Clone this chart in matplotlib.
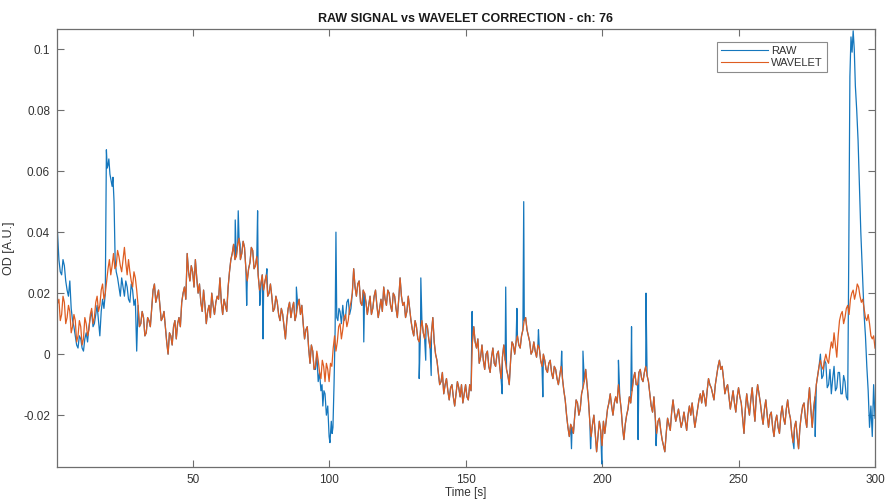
import numpy as np
import matplotlib
matplotlib.use("Agg")
import matplotlib.pyplot as plt

# ---------------- data ----------------
# WAVELET-corrected signal, whole seconds (t = 0.3, 1 .. 300)
wave_time = [0.3] + list(range(1, 301))
wavelet = [0.016,
    0.018, 0.013, 0.017, 0.012, 0.014, 0.009, 0.011, 0.006, 0.009, 0.005,
    0.010, 0.008, 0.015, 0.012, 0.019, 0.016, 0.023, 0.020, 0.028, 0.026,
    0.033, 0.029, 0.032, 0.027, 0.035, 0.026, 0.027, 0.022, 0.025, 0.016,
    0.010, 0.012, 0.007, 0.011, 0.015, 0.023, 0.019, 0.016, 0.012, 0.009,
    0.000, 0.006, 0.009, 0.005, 0.012, 0.017, 0.022, 0.033, 0.024, 0.027,
    0.031, 0.020, 0.017, 0.021, 0.010, 0.016, 0.020, 0.013, 0.019, 0.025,
    0.013, 0.016, 0.022, 0.031, 0.036, 0.032, 0.038, 0.033, 0.035, 0.024,
    0.030, 0.034, 0.029, 0.026, 0.023, 0.021, 0.026, 0.020, 0.019, 0.015,
    0.017, 0.011, 0.013, 0.005, 0.015, 0.012, 0.017, 0.013, 0.018, 0.016,
    0.005, 0.009, -0.003, 0.001, -0.004, -0.002, -0.008, -0.004, -0.003, -0.009,
    -0.004, 0.006, 0.004, 0.010, 0.008, 0.013, 0.011, 0.017, 0.028, 0.019,
    0.024, 0.016, 0.020, 0.013, 0.019, 0.015, 0.021, 0.012, 0.018, 0.022,
    0.016, 0.020, 0.014, 0.019, 0.012, 0.025, 0.016, 0.012, 0.019, 0.011,
    0.006, 0.009, 0.004, 0.011, 0.005, 0.009, 0.002, 0.012, 0.000, -0.006,
    -0.009, -0.013, -0.008, -0.015, -0.010, -0.017, -0.009, -0.014, -0.016, -0.010,
    -0.015, -0.012, 0.009, 0.002, -0.003, 0.003, -0.005, 0.001, -0.006, 0.002,
    -0.004, 0.001, -0.008, 0.003, -0.005, -0.010, 0.004, 0.000, 0.006, 0.002,
    0.008, 0.012, 0.006, 0.000, 0.004, -0.001, 0.002, -0.004, -0.002, -0.006,
    -0.002, -0.008, -0.005, -0.010, -0.004, -0.012, -0.020, -0.027, -0.024, -0.020,
    -0.016, -0.018, -0.011, -0.005, -0.015, -0.027, -0.020, -0.032, -0.022, -0.030,
    -0.026, -0.018, -0.013, -0.020, -0.014, -0.010, -0.018, -0.028, -0.020, -0.014,
    -0.012, -0.006, -0.010, -0.005, -0.009, -0.004, -0.009, -0.017, -0.014, -0.026,
    -0.021, -0.028, -0.032, -0.021, -0.025, -0.015, -0.022, -0.018, -0.024, -0.019,
    -0.025, -0.017, -0.016, -0.024, -0.018, -0.013, -0.012, -0.017, -0.008, -0.011,
    -0.015, -0.007, -0.002, -0.004, -0.013, -0.010, -0.018, -0.012, -0.019, -0.011,
    -0.016, -0.026, -0.013, -0.020, -0.011, -0.022, -0.010, -0.016, -0.023, -0.015,
    -0.024, -0.019, -0.027, -0.020, -0.026, -0.017, -0.023, -0.015, -0.021, -0.029,
    -0.022, -0.031, -0.020, -0.016, -0.024, -0.011, -0.024, -0.014, -0.007, -0.002,
    -0.005, 0.000, -0.003, 0.004, 0.007, -0.001, 0.011, 0.014, 0.012, 0.016,
    0.018, 0.021, 0.020, 0.022, 0.017, 0.015, 0.011, 0.010, 0.005, 0.002,
]

# WAVELET-corrected signal, half seconds (t = 1.5 .. 299.5)
wave_half_time = list(np.arange(1.5, 300.0, 1.0))
wavelet_half = [
    0.011, 0.019, 0.010, 0.016, 0.007, 0.013, 0.004, 0.011, 0.003, 0.012,
    0.006, 0.013, 0.010, 0.017, 0.014, 0.021, 0.018, 0.024, 0.031, 0.029,
    0.028, 0.034, 0.029, 0.031, 0.030, 0.031, 0.024, 0.027, 0.021, 0.009,
    0.014, 0.006, 0.012, 0.009, 0.021, 0.017, 0.021, 0.011, 0.014, 0.004,
    0.007, 0.003, 0.011, 0.010, 0.009, 0.020, 0.018, 0.027, 0.029, 0.022,
    0.025, 0.023, 0.014, 0.016, 0.014, 0.012, 0.016, 0.017, 0.018, 0.017,
    0.018, 0.014, 0.027, 0.033, 0.031, 0.036, 0.031, 0.037, 0.028, 0.028,
    0.035, 0.028, 0.032, 0.021, 0.026, 0.024, 0.019, 0.023, 0.014, 0.019,
    0.013, 0.015, 0.009, 0.011, 0.017, 0.015, 0.011, 0.016, 0.013, 0.010,
    0.008, 0.002, 0.003, -0.005, 0.001, -0.006, -0.002, -0.009, -0.005, -0.003,
    0.002, 0.001, 0.009, 0.005, 0.012, 0.009, 0.015, 0.020, 0.022, 0.023,
    0.017, 0.021, 0.017, 0.016, 0.013, 0.019, 0.016, 0.015, 0.014, 0.018,
    0.021, 0.016, 0.020, 0.015, 0.018, 0.019, 0.017, 0.014, 0.015, 0.008,
    0.011, 0.005, 0.008, 0.007, 0.010, 0.005, 0.007, 0.004, -0.002, -0.010,
    -0.006, -0.010, -0.012, -0.011, -0.014, -0.013, -0.011, -0.010, -0.013, -0.014,
    -0.010, 0.004, 0.004, 0.005, -0.001, -0.002, 0.000, -0.004, -0.001, -0.003,
    0.000, -0.004, -0.001, -0.002, -0.007, -0.002, 0.003, 0.004, 0.003, 0.006,
    0.011, 0.008, 0.004, 0.001, 0.001, 0.003, -0.002, 0.000, -0.005, -0.003,
    -0.006, -0.004, -0.008, -0.007, -0.008, -0.015, -0.024, -0.023, -0.026, -0.015,
    -0.020, -0.013, -0.009, -0.010, -0.022, -0.023, -0.026, -0.027, -0.025, -0.022,
    -0.022, -0.016, -0.017, -0.016, -0.016, -0.014, -0.024, -0.023, -0.018, -0.016,
    -0.008, -0.010, -0.006, -0.008, -0.006, -0.007, -0.013, -0.019, -0.021, -0.022,
    -0.025, -0.030, -0.026, -0.023, -0.019, -0.019, -0.020, -0.021, -0.022, -0.022,
    -0.020, -0.020, -0.020, -0.021, -0.015, -0.016, -0.014, -0.012, -0.010, -0.013,
    -0.010, -0.004, -0.005, -0.008, -0.011, -0.014, -0.015, -0.016, -0.014, -0.014,
    -0.021, -0.018, -0.017, -0.015, -0.017, -0.014, -0.013, -0.020, -0.018, -0.020,
    -0.020, -0.024, -0.022, -0.024, -0.020, -0.021, -0.018, -0.019, -0.026, -0.024,
    -0.027, -0.024, -0.017, -0.021, -0.016, -0.018, -0.018, -0.010, -0.004, -0.004,
    -0.002, -0.002, 0.001, 0.002, 0.003, 0.006, 0.013, 0.010, 0.015, 0.013,
    0.020, 0.018, 0.023, 0.019, 0.018, 0.012, 0.013, 0.006, 0.006,
]

# RAW segments where the raw signal departs from the wavelet-corrected one
raw_start_t = [0.3, 1, 1.5, 2, 2.5, 3, 3.5, 4, 4.5, 5, 5.5, 6, 6.5, 7, 7.5, 8, 8.5, 9,
               9.5, 10, 10.5, 11, 11.5, 12, 12.5, 13, 13.5, 14, 14.5, 15, 15.5, 16,
               16.5, 17, 17.5, 18, 18.4, 18.7, 19, 19.3, 19.7, 20.1, 20.5, 20.8, 21.2,
               21.6, 22, 22.5, 23, 23.5, 24, 24.5, 25, 25.5, 26, 26.5, 27, 27.5, 28,
               28.5, 29, 29.5]
raw_start_v = [0.043, 0.031, 0.027, 0.026, 0.031, 0.029, 0.024, 0.021, 0.019, 0.024,
               0.015, 0.011, 0.009, 0.006, 0.003, 0.002, 0.006, 0.005, 0.002, 0.001,
               0.005, 0.007, 0.004, 0.009, 0.012, 0.014, 0.009, 0.010, 0.013, 0.016,
               0.011, 0.006, 0.014, 0.018, 0.015, 0.020, 0.067, 0.061, 0.062, 0.064,
               0.059, 0.057, 0.055, 0.058, 0.050, 0.031, 0.027, 0.025, 0.022, 0.019,
               0.025, 0.022, 0.019, 0.024, 0.022, 0.018, 0.017, 0.023, 0.021, 0.016,
               0.018, 0.001]

raw_dip_t = [95, 95.5, 96, 96.5, 97, 97.4, 97.7, 98.1, 98.5, 99, 99.5, 100, 100.3,
             100.8, 101.1, 101.4, 101.8, 102.2, 102.5, 102.8, 103.2, 103.6, 104, 104.5,
             105, 105.5, 106, 106.5, 107, 107.5, 108]
raw_dip_v = [-0.005, 0.000, -0.009, -0.006, -0.012, -0.010, -0.017, -0.012, -0.013,
             -0.020, -0.017, -0.027, -0.029, -0.022, -0.026, -0.024, -0.010, 0.008,
             0.040, 0.012, 0.011, 0.015, 0.014, 0.010, 0.016, 0.011, 0.012, 0.017,
             0.018, 0.013, 0.015]

raw_end_t = [279.5, 280, 280.5, 281, 281.5, 282, 282.5, 283, 283.5, 284, 284.5, 285,
             285.5, 286, 286.5, 287, 287.5, 288, 288.5, 289, 289.5, 290, 290.4, 290.8,
             291.2, 291.6, 292, 292.4, 292.8, 293.3, 293.8, 294.3, 294.8, 295.3, 296,
             296.5, 297, 297.5, 298, 298.5, 299, 299.5, 300]
raw_end_v = [-0.004, 0.000, -0.008, -0.007, -0.002, -0.003, -0.011, -0.010, -0.005,
             -0.013, -0.008, -0.004, -0.012, -0.011, -0.006, -0.006, -0.013, -0.013,
             -0.007, -0.009, -0.014, -0.015, 0.034, 0.091, 0.104, 0.099, 0.106, 0.100,
             0.088, 0.080, 0.070, 0.055, 0.040, 0.029, 0.013, 0.006, -0.004, -0.012,
             -0.024, -0.017, -0.027, -0.010, -0.021]

# isolated RAW spikes (motion artefacts)
raw_spike_t = [65.6, 66.7, 67.4, 69.8, 73.8, 74.6, 75.8, 77.2, 88.0, 112.7, 133.0,
               133.6, 135.4, 137.4, 152.4, 163.4, 164.7, 168.8, 171.3, 176.7, 178.3,
               185.2, 188.8, 193.0, 195.8, 199.9, 206.0, 210.8, 213.2, 216.1, 219.8,
               270.3, 278.1]
raw_spike_v = [0.044, 0.047, 0.036, 0.016, 0.047, 0.016, 0.005, 0.028, 0.022, 0.004,
               -0.008, 0.025, -0.002, -0.007, 0.014, -0.013, 0.022, 0.015, 0.050,
               0.008, -0.014, 0.001, -0.031, 0.001, -0.031, -0.036, -0.002, 0.009,
               -0.028, 0.020, -0.030, -0.031, -0.027]

x_ticks = [50, 100, 150, 200, 250, 300]
y_ticks = [-0.02, 0, 0.02, 0.04, 0.06, 0.08, 0.1]
y_tick_labels = ["-0.02", "0", "0.02", "0.04", "0.06", "0.08", "0.1"]

# ---------------- assemble series ----------------
n = min(len(wave_half_time), len(wavelet_half))
wt = np.concatenate([np.array(wave_time, float), np.array(wave_half_time[:n], float)])
wv = np.concatenate([np.array(wavelet, float), np.array(wavelet_half[:n], float)])
o = np.argsort(wt, kind="stable")
wt, wv = wt[o], wv[o]

segments = [(raw_start_t, raw_start_v), (raw_dip_t, raw_dip_v), (raw_end_t, raw_end_v)]
keep = np.ones(wt.shape, dtype=bool)
for st, _ in segments:
    keep &= ~((wt >= min(st)) & (wt <= max(st)))
rt = np.concatenate([wt[keep]] + [np.array(s[0], float) for s in segments] + [np.array(raw_spike_t, float)])
rv = np.concatenate([wv[keep]] + [np.array(s[1], float) for s in segments] + [np.array(raw_spike_v, float)])
o = np.argsort(rt, kind="stable")
rt, rv = rt[o], rv[o]

# ---------------- plot ----------------
plt.rcParams["font.family"] = ["Liberation Sans", "DejaVu Sans"]
fig = plt.figure(figsize=(8.85, 4.99), dpi=100)
ax = fig.add_axes([0.0644, 0.0641, 0.9243, 0.8778])

blue = "#1577BD"
orange = "#DE5D22"
ax.plot(rt, rv, color=blue, lw=0.9, label="RAW")
ax.plot(wt, wv, color=orange, lw=0.9, label="WAVELET")

ax.set_xlim(0.3, 300)
ax.set_ylim(-0.037, 0.1066)
ax.set_xticks(x_ticks)
ax.set_xticklabels([str(v) for v in x_ticks])
ax.set_yticks(y_ticks)
ax.set_yticklabels(y_tick_labels)

axcol = "#6e6e6e"
for sp in ax.spines.values():
    sp.set_color(axcol)
    sp.set_linewidth(0.9)
ax.tick_params(direction="in", length=5, width=0.8, colors=axcol, labelcolor="#333333",
               labelsize=8.5, top=True, right=True, pad=5)

ax.set_title("RAW SIGNAL vs WAVELET CORRECTION - ch: 76", fontsize=9, fontweight="bold",
             color="#1a1a1a", pad=5)
ax.set_xlabel("Time [s]", fontsize=8.5, color="#333333", labelpad=0.5)
ax.set_ylabel("OD [A.U.]", fontsize=9, color="#333333", labelpad=6)

leg = ax.legend(loc="upper right", bbox_to_anchor=(0.941, 0.970), fontsize=8,
                frameon=True, fancybox=False, handlelength=4.2, borderpad=0.35,
                labelspacing=0.15, handletextpad=0.3, borderaxespad=0)
leg.get_frame().set_edgecolor("#6e6e6e")
leg.get_frame().set_linewidth(0.8)
for line in leg.get_lines():
    line.set_linewidth(0.8)
for txt in leg.get_texts():
    txt.set_color("#333333")

fig.savefig("out.png", dpi=100)
